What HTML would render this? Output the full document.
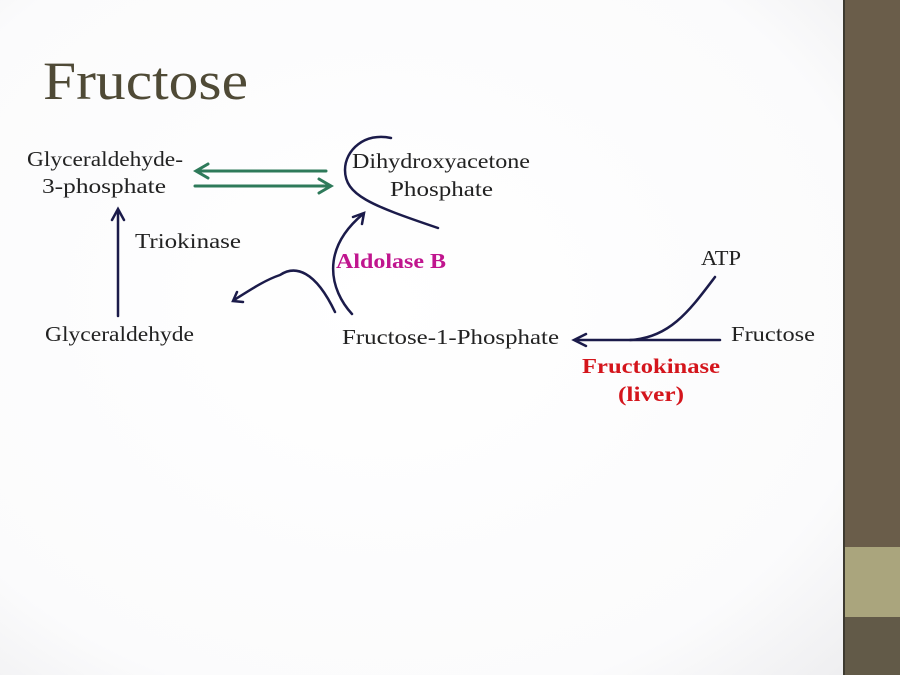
<!DOCTYPE html>
<html><head><style>
html,body{margin:0;padding:0;width:900px;height:675px;overflow:hidden;background:#fff;}
svg{display:block}
</style></head><body>
<svg width="900" height="675" viewBox="0 0 900 675" xmlns="http://www.w3.org/2000/svg">
<defs>
<radialGradient id="bg" cx="45%" cy="45%" r="80%">
<stop offset="0" stop-color="#ffffff"/><stop offset="0.75" stop-color="#fbfbfc"/><stop offset="1" stop-color="#ededef"/>
</radialGradient>
</defs>
<rect x="0" y="0" width="843" height="675" fill="url(#bg)"/>
<rect x="843" y="0" width="57" height="675" fill="#6a5d4a"/>
<rect x="843" y="0" width="2" height="675" fill="#3d3a30"/>
<rect x="845" y="547" width="55" height="70" fill="#aaa57d"/>
<rect x="845" y="617" width="55" height="58" fill="#625a48"/>
<g font-family="Liberation Serif, serif">
<text x="43" y="99" font-size="54" fill="#4f4a36" textLength="205" lengthAdjust="spacingAndGlyphs">Fructose</text>
<g font-size="21" fill="#222">
<text x="27" y="166" textLength="156" lengthAdjust="spacingAndGlyphs">Glyceraldehyde-</text>
<text x="42" y="193" textLength="124" lengthAdjust="spacingAndGlyphs">3-phosphate</text>
<text x="352" y="168" textLength="178" lengthAdjust="spacingAndGlyphs">Dihydroxyacetone</text>
<text x="390" y="196" textLength="103" lengthAdjust="spacingAndGlyphs">Phosphate</text>
<text x="135" y="248" textLength="106" lengthAdjust="spacingAndGlyphs">Triokinase</text>
<text x="45" y="341" textLength="149" lengthAdjust="spacingAndGlyphs">Glyceraldehyde</text>
<text x="342" y="344" textLength="217" lengthAdjust="spacingAndGlyphs">Fructose-1-Phosphate</text>
<text x="701" y="265" textLength="40" lengthAdjust="spacingAndGlyphs">ATP</text>
<text x="731" y="341" textLength="84" lengthAdjust="spacingAndGlyphs">Fructose</text>
</g>
<text x="336" y="268" font-size="21" font-weight="bold" fill="#c0158e" textLength="110" lengthAdjust="spacingAndGlyphs">Aldolase B</text>
<text x="582" y="373" font-size="21" font-weight="bold" fill="#d4151c" textLength="138" lengthAdjust="spacingAndGlyphs">Fructokinase</text>
<text x="618" y="401" font-size="21" font-weight="bold" fill="#d4151c" textLength="66" lengthAdjust="spacingAndGlyphs">(liver)</text>
</g>
<g stroke="#2e7a5a" stroke-width="3" fill="none" stroke-linecap="round">
<line x1="326" y1="171" x2="197" y2="171"/><polyline points="208,164 196,171 208,178"/>
<line x1="195" y1="186" x2="330" y2="186"/><polyline points="319,179 331,186 319,193"/>
</g>
<g stroke="#1b1b4a" stroke-width="2.5" fill="none" stroke-linecap="round">
<path d="M391 138 C365 132 345 150 345 170 C345 195 370 205 438 228"/>
<line x1="118" y1="316" x2="118" y2="210"/><polyline points="112,220 118,209 124,220"/>
<path d="M352 314 C330 290 320 250 363 214"/><polyline points="353,217 364,213 362,224"/>
<path d="M335 312 C315 270 295 265 280 275 C265 280 250 290 234 300"/><polyline points="237,292 233,301 243,302"/>
<path d="M720 340 L575 340"/><polyline points="586,334 574,340 586,346"/>
<path d="M715 277 C690 310 670 338 630 340"/>
</g>
</svg>
</body></html>
